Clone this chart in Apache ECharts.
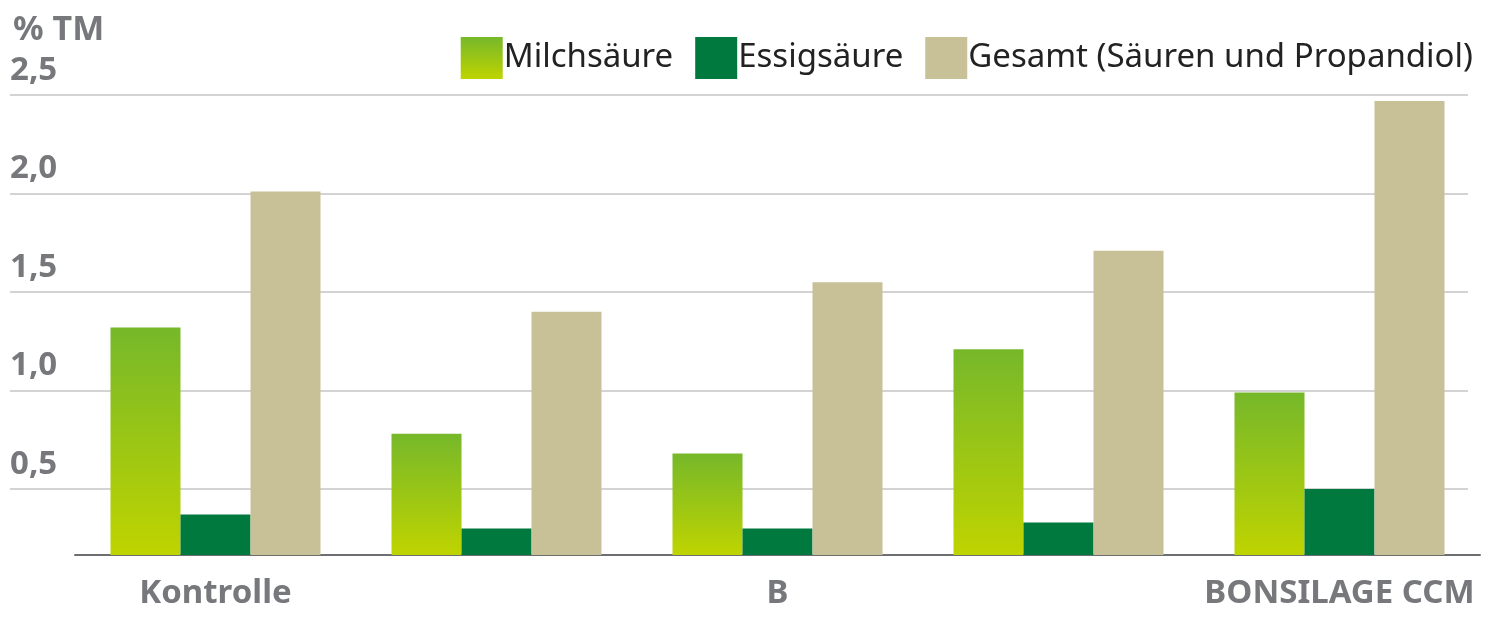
<!DOCTYPE html>
<html><head><meta charset="utf-8">
<script src="https://cdn.jsdelivr.net/npm/echarts@6/dist/echarts.min.js"></script>
<style>html,body{margin:0;padding:0;background:#fff}#c{width:1490px;height:625px}</style>
</head><body><div id="c"></div>
<script>
const categories = ['Kontrolle', 'A', 'B', 'C', 'BONSILAGE CCM'];
const milchsaeure = [1.32, 0.78, 0.68, 1.21, 0.99];
const essigsaeure = [0.37, 0.30, 0.30, 0.33, 0.50];
const gesamt = [2.01, 1.40, 1.55, 1.71, 2.47];
const seriesNames = ['Milchsäure', 'Essigsäure', 'Gesamt (Säuren und Propandiol)'];
const tickLabels = {0.5: '0,5', 1: '1,0', 1.5: '1,5', 2: '2,0', 2.5: '2,5'};

const gray = '#77787b';
const font = "'Liberation Sans Narrow', 'Noto Sans', sans-serif";
const grad = new echarts.graphic.LinearGradient(0, 0, 0, 1, [
  {offset: 0, color: '#76b82a'}, {offset: 1, color: '#bfd400'}]);

const chart = echarts.init(document.getElementById('c'));
chart.setOption({
  animation: false,
  title: {text: '% TM', left: 8, top: 8, textStyle: {color: gray, fontSize: 34, fontWeight: 'bold', fontFamily: font}},
  legend: {
    right: 12, top: 32, itemWidth: 42, itemHeight: 42, itemGap: 22, icon: 'rect',
    textStyle: {fontSize: 33, color: '#222', fontFamily: "'Noto Sans', sans-serif", padding: [0, 0, 0, -4]},
    data: seriesNames
  },
  grid: [
    {left: 75, right: 10, top: 95, bottom: 70},
    {left: 10, right: 22, top: 95, bottom: 37.4}
  ],
  xAxis: [
    {type: 'category', gridIndex: 0, data: categories,
     axisLine: {lineStyle: {color: '#6d6e71', width: 2}}, axisTick: {show: false},
     axisLabel: {color: gray, fontSize: 33, fontWeight: 'bold', fontFamily: font, margin: 22}},
    {type: 'category', gridIndex: 1, data: [''], show: false}
  ],
  yAxis: [
    {type: 'value', gridIndex: 0, min: 0.165, max: 2.5, show: false, splitLine: {show: false}},
    {type: 'value', gridIndex: 1, min: 0, max: 2.5, interval: 0.5,
     axisLine: {show: false}, axisTick: {show: false},
     splitLine: {lineStyle: {color: ['transparent', '#c4c4c4', '#c4c4c4', '#c4c4c4', '#c4c4c4', '#c4c4c4'], width: 1.5}},
     axisLabel: {inside: true, showMinLabel: false, verticalAlign: 'bottom', margin: 0, padding: [0, 0, 8, 0],
       color: gray, fontSize: 33, fontWeight: 'bold', fontFamily: font,
       formatter: v => tickLabels[v] || ''}}
  ],
  series: [
    {name: seriesNames[0], type: 'bar', data: milchsaeure, barWidth: 70, barGap: '0%', itemStyle: {color: grad}},
    {name: seriesNames[1], type: 'bar', data: essigsaeure, barWidth: 70, barGap: '0%', itemStyle: {color: '#00793e'}},
    {name: seriesNames[2], type: 'bar', data: gesamt, barWidth: 70, barGap: '0%', itemStyle: {color: '#c8c097'}}
  ]
});
</script></body></html>
